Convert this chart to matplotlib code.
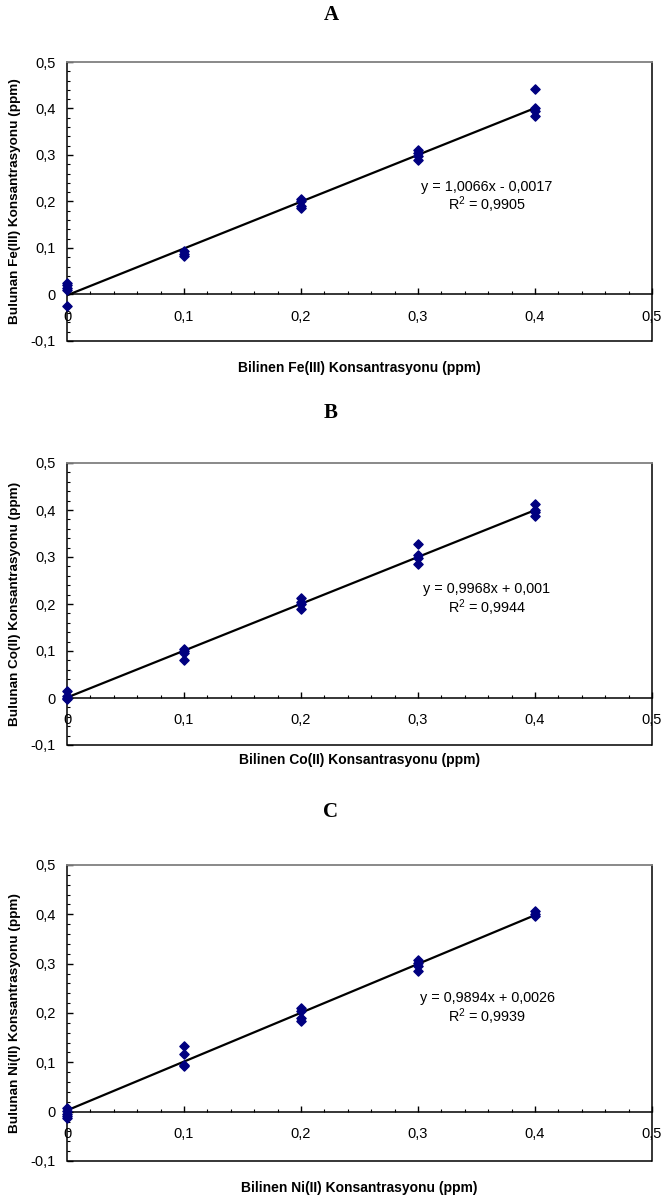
import numpy as np
import matplotlib
matplotlib.use('Agg')
import matplotlib.pyplot as plt
from matplotlib.ticker import MultipleLocator, FuncFormatter
from matplotlib.patches import Rectangle

plt.rcParams['font.family'] = ['Liberation Sans', 'DejaVu Sans']

# DATA (okunan degerler)
harfler = ['A', 'B', 'C']
iyonlar = ['Fe(III)', 'Co(II)', 'Ni(II)']

x_a = [0, 0, 0, 0, 0, 0.1, 0.1, 0.1, 0.2, 0.2, 0.2, 0.2, 0.3, 0.3, 0.3, 0.3, 0.4, 0.4, 0.4, 0.4]
y_a = [0.024, 0.02, 0.015, 0.01, -0.025, 0.093, 0.088, 0.083, 0.205, 0.2, 0.19, 0.185,
       0.31, 0.305, 0.298, 0.29, 0.441, 0.4, 0.395, 0.383]

x_b = [0, 0, 0, 0, 0.1, 0.1, 0.1, 0.1, 0.2, 0.2, 0.2, 0.2, 0.3, 0.3, 0.3, 0.3, 0.4, 0.4, 0.4, 0.4]
y_b = [0.015, 0.005, 0.0, -0.003, 0.105, 0.1, 0.095, 0.08, 0.212, 0.205, 0.2, 0.19,
       0.328, 0.305, 0.298, 0.285, 0.412, 0.4, 0.395, 0.387]

x_c = [0, 0, 0, 0, 0, 0.1, 0.1, 0.1, 0.1, 0.2, 0.2, 0.2, 0.2, 0.3, 0.3, 0.3, 0.3, 0.4, 0.4, 0.4]
y_c = [0.007, 0.002, -0.004, -0.009, -0.013, 0.133, 0.117, 0.095, 0.092, 0.21, 0.205, 0.19, 0.183,
       0.308, 0.302, 0.295, 0.285, 0.406, 0.4, 0.396]

egim = [1.0066, 0.9968, 0.9894]
kesim = [-0.0017, 0.001, 0.0026]
denklem = ['y = 1,0066x - 0,0017', 'y = 0,9968x + 0,001', 'y = 0,9894x + 0,0026']
r2 = ['0,9905', '0,9944', '0,9939']

veriler = [(x_a, y_a), (x_b, y_b), (x_c, y_c)]

# yerlesim (piksel)
W, H = 662, 1203
sol, sag = 67, 652
ustler = [62, 463, 865]
altlar = [341, 745, 1161]
baslik_y = [15, 413, 812]
xetiket_y = [368, 760, 1188]


def virgul(v, pos):
    if abs(v) < 1e-9:
        return '0'
    return ('%.1f' % v).replace('.', ',')


fig = plt.figure(figsize=(W / 100, H / 100), dpi=100)

for i in range(3):
    ust, alt = ustler[i], altlar[i]
    ax = fig.add_axes([sol / W, 1 - alt / H, (sag - sol) / W, (alt - ust) / H])
    ax.set_xlim(0, 0.5)
    ax.set_ylim(-0.1, 0.5)

    xs, ys = veriler[i]
    xx = np.array([0, 0.4])
    ax.plot(xx, egim[i] * xx + kesim[i], color='black', lw=1.6, zorder=2)
    ax.scatter(xs, ys, marker='D', s=22, color='#000080', zorder=3, clip_on=False)

    ax.spines['bottom'].set_position(('data', 0))
    ax.spines['bottom'].set_linewidth(1.1)
    ax.spines['left'].set_linewidth(1.1)
    ax.spines['right'].set_linewidth(1.1)
    ax.spines['top'].set_color('#808080')
    ax.spines['top'].set_linewidth(1.3)
    ax.add_patch(Rectangle((0, 0), 1, 0.001, transform=ax.transAxes, fill=False,
                           edgecolor='black', lw=1.1, clip_on=False))

    ax.xaxis.set_major_locator(MultipleLocator(0.1))
    ax.xaxis.set_minor_locator(MultipleLocator(0.02))
    ax.yaxis.set_major_locator(MultipleLocator(0.1))
    ax.yaxis.set_minor_locator(MultipleLocator(0.02))
    ax.xaxis.set_major_formatter(FuncFormatter(virgul))
    ax.yaxis.set_major_formatter(FuncFormatter(virgul))
    ax.tick_params(which='major', direction='in', length=4, width=1, labelsize=10.5)
    ax.tick_params(which='minor', direction='in', length=2, width=0.8)
    ax.tick_params(axis='x', which='major', pad=11)
    ax.tick_params(axis='y', which='major', pad=8)

    ax.text(0.718, 0.552, denklem[i], transform=ax.transAxes, ha='center', va='center', fontsize=10.4)
    ax.text(0.718, 0.487, '$\\mathregular{R^2}$ = ' + r2[i], transform=ax.transAxes,
            ha='center', va='center', fontsize=10.4)

    fig.text(331 / W, 1 - baslik_y[i] / H, harfler[i], ha='center', va='center',
             fontsize=15, fontweight='bold', family='Liberation Serif')
    fig.text((sol + sag) / 2 / W, 1 - xetiket_y[i] / H,
             'Bilinen ' + iyonlar[i] + ' Konsantrasyonu (ppm)',
             ha='center', va='center', fontsize=10, fontweight='bold')
    fig.text(15 / W, 1 - (ust + alt) / 2 / H,
             'Bulunan ' + iyonlar[i] + ' Konsantrasyonu (ppm)',
             ha='center', va='center', rotation=90, fontsize=9.7, fontweight='bold')

fig.savefig('out.png', dpi=100)
